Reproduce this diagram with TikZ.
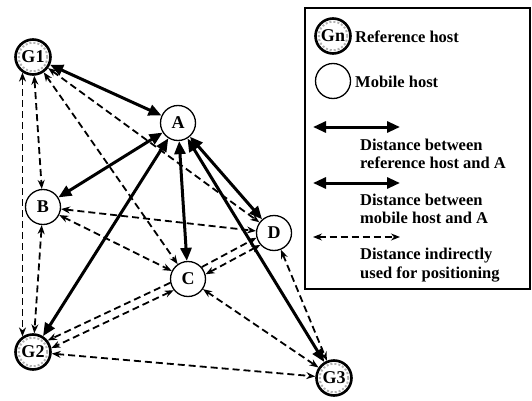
\documentclass[tikz,border=0pt]{standalone}
\usepackage{fontspec}
\setmainfont{Liberation Serif}
\usetikzlibrary{arrows.meta}
\begin{document}
\begin{tikzpicture}[x=1pt,y=-1pt,
  mob/.style={circle,draw,line width=1.3pt,fill=white,minimum size=35pt,inner sep=0pt,font=\fontsize{18}{18}\selectfont\bfseries},
  refh/.style={mob,line width=2.6pt},
  ring/.style={gray!60,dotted,line width=2pt},
  thk/.style={line width=3pt,{Triangle[length=13pt,width=11pt]}-{Triangle[length=13pt,width=11pt]}},
  dsh/.style={line width=1.8pt,dash pattern=on 7pt off 4pt,{Stealth[length=9pt,width=7pt]}-{Stealth[length=9pt,width=7pt]}},
  dshone/.style={line width=1.8pt,dash pattern=on 7pt off 4pt,-{Stealth[length=9pt,width=7pt]}},
  legtxt/.style={anchor=west,align=left,font=\fontsize{16.5}{18.5}\selectfont\bfseries,inner sep=0pt}
]
\useasboundingbox (0,0) rectangle (532,401);

% nodes
\node[refh] (G1) at (33,57) {G1};
\node[refh] (G2) at (33,352) {G2};
\node[refh] (G3) at (334,378) {G3};
\node[mob] (A) at (178,123) {A};
\node[mob] (B) at (43,207) {B};
\node[mob] (C) at (188,279) {C};
\node[mob] (D) at (274,233) {D};
\foreach \n in {G1,G2,G3} \draw[ring] (\n) circle (14.3pt);

% dashed (indirect) links
\draw[dsh] (G1.236) -- (G2.124);
\draw[dsh] (G1) -- (B);
\draw[dsh] (B) -- (G2);
\draw[dsh] (G1) -- (C);
\draw[dsh] (G1) -- (D);
\draw[dsh] (B) -- (D);
\draw[dsh] (B) -- (C);
\draw[dshone] (C.41) -- (D.195);
\draw[dsh] (C.15) -- (D.221);
\draw[dshone] (C.192) -- (G2.38);
\draw[dsh] (C.218) -- (G2.12);
\draw[dsh] (C) -- (G3);
\draw[dsh] (D) -- (G3);
\draw[dsh] (G2) -- (G3);

% thick links to A
\draw[thk] (G1) -- (A);
\draw[thk] (G2) -- (A);
\draw[thk] (G3) -- (A);
\draw[thk] (B) -- (A);
\draw[thk] (C) -- (A);
\draw[thk] (D) -- (A);

% legend
\node[draw,line width=1.4pt,minimum width=225pt,minimum height=281pt,inner sep=0pt] (box) at (417.5,148.5) {};
\node[refh] (Gn) at (333,36) {Gn};
\draw[ring] (Gn) circle (14.3pt);
\node[legtxt] (t1) at (355,37) {Reference host};
\node[mob] (M) at (333,81) {};
\node[legtxt] (t2) at (355,82) {Mobile host};
\coordinate (l1a) at (313,127);
\coordinate (l1b) at (400,127);
\draw[thk] (l1a) -- (l1b);
\node[legtxt] (t3) at (360,154) {Distance between\\reference host and A};
\coordinate (l2a) at (313,183);
\coordinate (l2b) at (400,183);
\draw[thk] (l2a) -- (l2b);
\node[legtxt] (t4) at (360,209) {Distance between\\mobile host and A};
\coordinate (l3a) at (313,237);
\coordinate (l3b) at (400,237);
\draw[dsh,line width=1.2pt] (l3a) -- (l3b);
\node[legtxt] (t5) at (360,265) {Distance indirectly\\used for positioning};
\end{tikzpicture}
\end{document}
